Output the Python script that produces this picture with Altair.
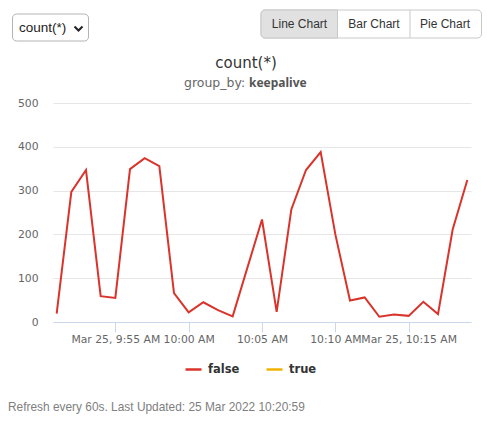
import altair as alt
import pandas as pd

# ---- data ----
times = ["09:51", "09:52", "09:53", "09:54", "09:55", "09:56", "09:57", "09:58", "09:59",
         "10:00", "10:01", "10:02", "10:03", "10:05", "10:06", "10:07", "10:08", "10:09",
         "10:10", "10:11", "10:12", "10:13", "10:14", "10:15", "10:16", "10:17", "10:18", "10:19"]
counts = [19, 297, 347, 59, 55, 349, 374, 356, 66,
          22, 45, 27, 13, 234, 23, 257, 347, 388,
          200, 49, 56, 12, 17, 14, 46, 18, 211, 324]
series = ["false"] * len(times)
legend_domain = ["false", "true"]
legend_colors = ["#d9342b", "#f0b400"]

tick_times = ["09:55", "10:00", "10:05", "10:10", "10:15"]
tick_labels = ["Mar 25, 9:55 AM", "10:00 AM", "10:05 AM", "10:10 AM", "Mar 25, 10:15 AM"]
y_ticks = [0, 100, 200, 300, 400, 500]

title_text = "count(*)"
subtitle_prefix = "group_by:"
subtitle_value = "keepalive"
dropdown_text = "count(*)"
buttons = ["Line Chart", "Bar Chart", "Pie Chart"]
footer_text = "Refresh every 60s. Last Updated: 25 Mar 2022 10:20:59"

df = pd.DataFrame({
    "time": ["2022-03-25T" + t + ":00" for t in times],
    "count": counts,
    "keepalive": series,
})


def dt(hh, mm, ss=0):
    return alt.DateTime(year=2022, month=3, date=25, hours=hh, minutes=mm, seconds=ss)


tick_values = [dt(int(t[:2]), int(t[3:])) for t in tick_times]
label_map = ", ".join("'%s': '%s'" % (t, l) for t, l in zip(tick_times, tick_labels))
label_expr = "{%s}[timeFormat(datum.value, '%%H:%%M')]" % label_map

AXIS_FONT = "DejaVu Sans"
UI_FONT = "Liberation Sans"

line = alt.Chart(df).mark_line(strokeWidth=2).encode(
    x=alt.X(
        "time:T",
        scale=alt.Scale(domain=[dt(9, 50, 45), dt(10, 19, 15)]),
        axis=alt.Axis(
            title=None, values=tick_values, labelExpr=label_expr, grid=False,
            domainColor="#ccd6eb", tickColor="#ccd6eb", tickSize=10,
            labelPadding=1, labelOverlap=False, labelFlush=False,
            labelFont=AXIS_FONT, labelFontSize=10.8, labelColor="#666666",
        ),
    ),
    y=alt.Y(
        "count:Q",
        scale=alt.Scale(domain=[0, 500], nice=False),
        axis=alt.Axis(
            title=None, values=y_ticks, domain=False, ticks=False, tickSize=0,
            labelPadding=15, gridColor="#e6e6e6",
            labelFont=AXIS_FONT, labelFontSize=10.8, labelColor="#666666",
        ),
    ),
    color=alt.Color(
        "keepalive:N",
        scale=alt.Scale(domain=legend_domain, range=legend_colors),
        legend=alt.Legend(
            title=None, orient="none", direction="horizontal",
            legendX=131, legendY=257, padding=0,
            symbolType="stroke", symbolSize=256, symbolStrokeWidth=2.5,
            labelOffset=5, columnPadding=21,
            labelFont=AXIS_FONT, labelFontSize=11.5, labelFontWeight="bold",
            labelColor="#333333",
        ),
    ),
)

one = alt.Data(values=[{"k": 1}])

# dropdown
dd_box = alt.Chart(one).mark_rect(
    fill="white", stroke="#b4b4b4", strokeWidth=1, cornerRadius=4
).encode(x=alt.value(-40.5), x2=alt.value(35.5), y=alt.value(-89), y2=alt.value(-62))
dd_text = alt.Chart(one).mark_text(
    text=dropdown_text, align="left", baseline="middle", font=UI_FONT, fontSize=13.5, color="#222222"
).encode(x=alt.value(-34), y=alt.value(-75))
dd_chev = alt.Chart(one).mark_point(
    shape="M-1,-0.5L0,0.5L1,-0.5", filled=False, size=64, strokeWidth=2, color="#222222", opacity=1
).encode(x=alt.value(25.5), y=alt.value(-74.5))

# button group
bg_box = alt.Chart(one).mark_rect(
    fill="white", stroke="#c8c8c8", strokeWidth=1, cornerRadius=4
).encode(x=alt.value(208), x2=alt.value(428.5), y=alt.value(-93), y2=alt.value(-65))
bg_active = alt.Chart(one).mark_rect(
    fill="#e1e1e1", stroke="#c8c8c8", strokeWidth=1,
    cornerRadiusTopLeft=4, cornerRadiusBottomLeft=4
).encode(x=alt.value(208), x2=alt.value(284.5), y=alt.value(-93), y2=alt.value(-65))
bg_div = alt.Chart(one).mark_rule(stroke="#c8c8c8", strokeWidth=1).encode(
    x=alt.value(357), y=alt.value(-93), y2=alt.value(-65))
btn_pos = [246.5, 321, 392]
btn_text = alt.layer(*[
    alt.Chart(one).mark_text(
        text=b, align="center", baseline="middle", font=UI_FONT, fontSize=12, color="#333333"
    ).encode(x=alt.value(px), y=alt.value(-79))
    for b, px in zip(buttons, btn_pos)
])

# titles
title = alt.Chart(one).mark_text(
    text=title_text, align="center", baseline="middle", font=AXIS_FONT, fontSize=15, color="#333333"
).encode(x=alt.value(193), y=alt.value(-40))
sub1 = alt.Chart(one).mark_text(
    text=subtitle_prefix, align="left", baseline="middle", font=AXIS_FONT, fontSize=12.5, color="#666666"
).encode(x=alt.value(131), y=alt.value(-20))
sub2 = alt.Chart(one).mark_text(
    text=subtitle_value, align="left", baseline="middle", font="Noto Sans", fontSize=12,
    fontWeight="bold", color="#555555"
).encode(x=alt.value(196), y=alt.value(-20))

footer = alt.Chart(one).mark_text(
    text=footer_text, align="left", baseline="middle", font=UI_FONT, fontSize=11.9, color="#808080"
).encode(x=alt.value(-45), y=alt.value(304))

chart = alt.layer(
    line, dd_box, dd_text, dd_chev, bg_box, bg_active, bg_div, btn_text,
    title, sub1, sub2, footer
).properties(
    width=418, height=219,
    padding={"left": 53, "top": 103, "right": 20, "bottom": 107},
    autosize=alt.AutoSizeParams(type="none"),
    background="white",
).configure_view(stroke=None)

chart.save("out.html", embed_options={"renderer": "svg", "actions": False})
